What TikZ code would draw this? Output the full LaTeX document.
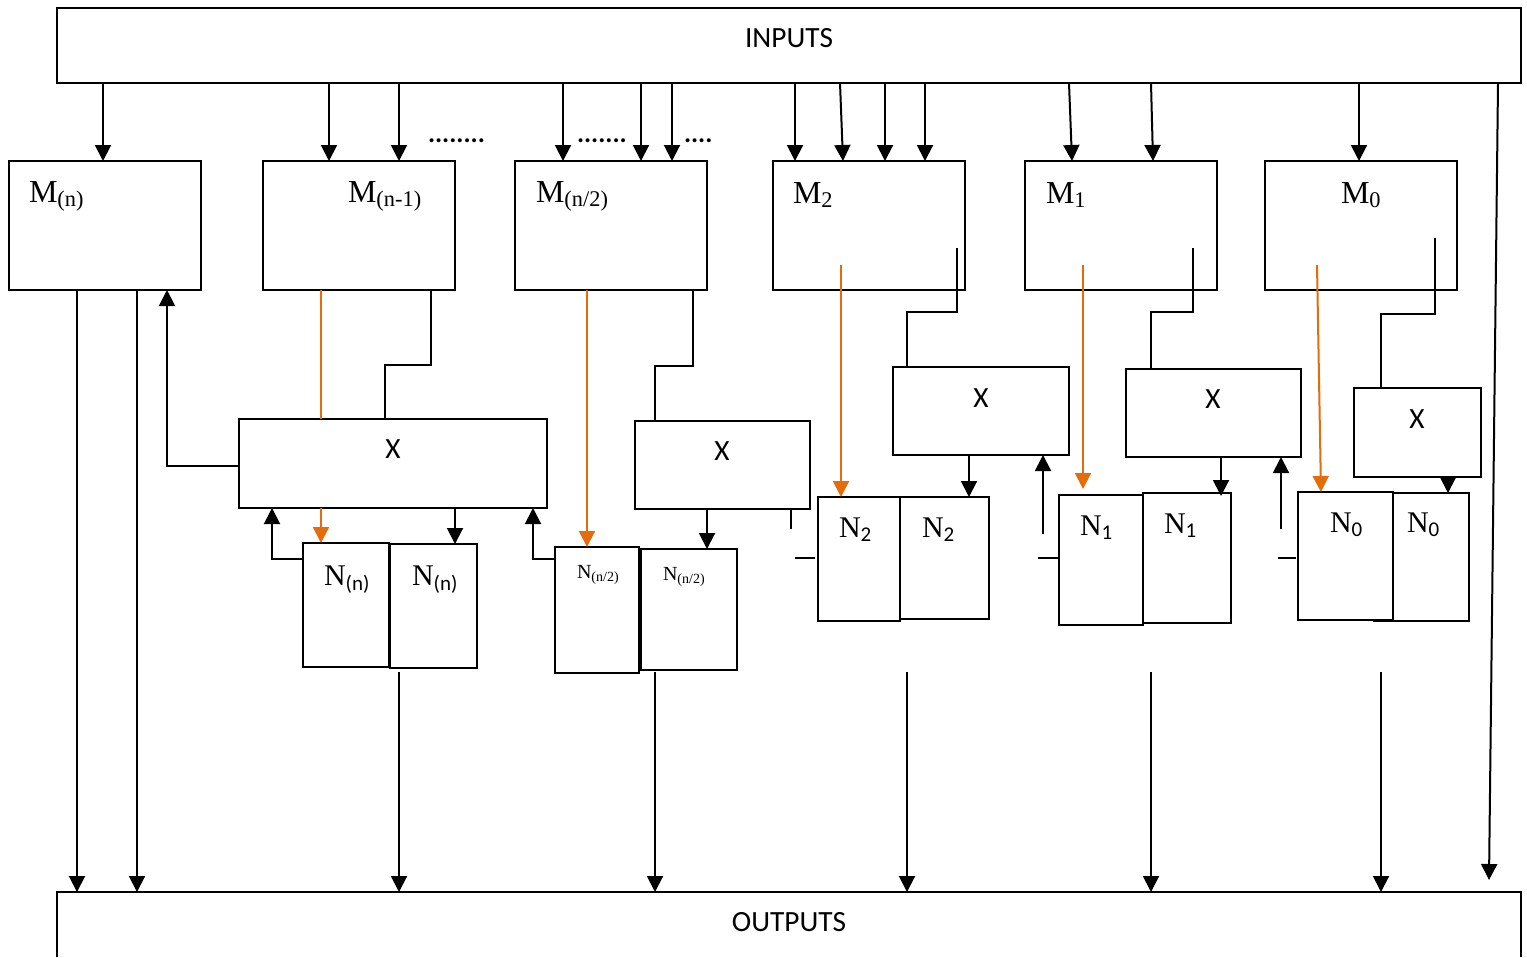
\documentclass[tikz,border=0pt]{standalone}
\usepackage{fontspec}
\setmainfont{Liberation Serif}
\newfontfamily\sansf{Carlito}
\usetikzlibrary{arrows.meta,calc}
\definecolor{orng}{RGB}{228,108,10}
\newcommand{\bx}[5]{%
  \pgfmathsetmacro\bxw{(#4-#2)*0.75}%
  \pgfmathsetmacro\bxh{(#5-#3)*0.75}%
  \node[boxst,minimum width=\bxw pt,minimum height=\bxh pt] (#1) at ({(#2+#4)/2},{(#3+#5)/2}) {};%
}
\begin{document}
\begin{tikzpicture}[x=0.75pt,y=-0.75pt,line width=1.5pt,
  boxst/.style={draw,line width=1.5pt,inner sep=0pt,outer sep=0pt},
  arr/.style={-{Triangle[width=12pt,length=12pt]}},
  oarr/.style={arr,draw=orng,fill=orng},
  sanslab/.style={font=\sansf\fontsize{22}{24}\selectfont,inner sep=0pt},
  mlab/.style={font=\fontsize{24}{26}\selectfont,inner sep=0pt,anchor=base west},
  nlab/.style={font=\fontsize{22.5}{24}\selectfont,inner sep=0pt,anchor=base west},
  hlab/.style={font=\fontsize{15}{17}\selectfont,inner sep=0pt,anchor=base west},
  dots/.style={font=\sansf\bfseries\fontsize{20}{22}\selectfont,inner sep=0pt,anchor=base west}]
\useasboundingbox (0,0) rectangle (1527,957);
\clip (0,0) rectangle (1527,957);

% ---- boxes ----
\bx{inputs}{57}{8}{1521}{83}
\node[inner sep=0pt,outer sep=0pt,minimum width=1098pt,minimum height=48.75pt] (outputs) at (789,924.5) {};
\draw (outputs.south west) -- (outputs.north west) -- (outputs.north east) -- (outputs.south east);

\bx{mn}{9}{161}{201}{290}
\bx{mn1}{263}{161}{455}{290}
\bx{mh}{515}{161}{707}{290}
\bx{m2}{773}{161}{965}{290}
\bx{m1}{1025}{161}{1217}{290}
\bx{m0}{1265}{161}{1457}{290}

\bx{xa}{239}{419}{547}{508}
\bx{xb}{635}{421}{810}{509}
\bx{xc}{893}{367}{1069}{455}
\bx{xd}{1126}{369}{1301}{457}
\bx{xe}{1354}{388}{1481}{477}

\bx{nna}{303}{543}{389}{667}
\bx{nnb}{390}{544}{477}{668}
\bx{nha}{555}{547}{639}{673}
\bx{nhb}{641}{549}{737}{670}
\bx{n2a}{818}{497}{900}{621}
\bx{n2b}{900}{497}{989}{619}
\bx{n1a}{1059}{495}{1143}{625}
\bx{n1b}{1143}{493}{1231}{623}
\bx{n0a}{1298}{492}{1393}{620}
\bx{n0b}{1393}{493}{1469}{621}

% ---- labels ----
\node[sanslab] (inputs-t) at (789,38) {INPUTS};
\node[sanslab] (outputs-t) at (789,922) {OUTPUTS};
\node[sanslab] (xa-t) at (393,449) {X};
\node[sanslab] (xb-t) at (722,451) {X};
\node[sanslab] (xc-t) at (981,398) {X};
\node[sanslab] (xd-t) at (1213,399) {X};
\node[sanslab] (xe-t) at (1417,419) {X};

\node[mlab] (mn-t) at (28,202) {M\textsubscript{(n)}};
\node[mlab] (mn1-t) at (347,202) {M\textsubscript{(n-1)}};
\node[mlab] (mh-t) at (535,202) {M\textsubscript{(n/2)}};
\node[mlab] (m2-t) at (792,203) {M\textsubscript{2}};
\node[mlab] (m1-t) at (1045,203) {M\textsubscript{1}};
\node[mlab] (m0-t) at (1340,203) {M\textsubscript{0}};

\node[nlab] (nna-t) at (323,585) {N\textsubscript{\sansf (n)}};
\node[nlab] (nnb-t) at (411,585) {N\textsubscript{\sansf (n)}};
\node[hlab] (nha-t) at (576,578) {N\textsubscript{(n/2)}};
\node[hlab] (nhb-t) at (662,580) {N\textsubscript{(n/2)}};
\node[nlab] (n2a-t) at (838,537) {N\textsubscript{\sansf 2}};
\node[nlab] (n2b-t) at (921,537) {N\textsubscript{\sansf 2}};
\node[nlab] (n1a-t) at (1079,535) {N\textsubscript{\sansf 1}};
\node[nlab] (n1b-t) at (1163,533) {N\textsubscript{\sansf 1}};
\node[nlab] (n0a-t) at (1329,532) {N\textsubscript{\sansf 0}};
\node[nlab] (n0b-t) at (1406,532) {N\textsubscript{\sansf 0}};

\node[dots] (d1) at (427,142) {........};
\node[dots] (d2) at (576,142) {.......};
\node[dots] (d3) at (683,142) {....};

% ---- inputs to M blocks ----
\foreach \xa/\xb/\t in {103/103/mn, 329/329/mn1, 399/399/mn1, 563/563/mh, 641/641/mh, 672/672/mh,
  795/795/m2, 840/843/m2, 885/885/m2, 925/925/m2, 1069/1072/m1, 1151/1153/m1, 1359/1359/m0}
  \draw[arr] (inputs.south -| \xa,0) -- (\t.north -| \xb,0);
\coordinate (rend) at (1489,880);
\draw[arr] (inputs.south -| 1498,0) -- (rend);

% ---- M(n) ----
\draw[arr] (mn.south -| 77,0) -- (outputs.north -| 77,0);
\draw[arr] (mn.south -| 137,0) -- (outputs.north -| 137,0);
\draw[arr] (xa.west |- 0,466) -- (167,466) -- (mn.south -| 167,0);

% ---- M(n-1) ----
\draw[orng] (mn1.south -| 321,0) -- (xa.north -| 321,0);
\draw[oarr] (xa.south -| 321,0) -- (nna.north -| 321,0);
\draw (mn1.south -| 431,0) |- (385,365) -- (xa.north -| 385,0);
\draw[arr] (xa.south -| 455,0) -- (nnb.north -| 455,0);
\draw[arr] (nna.west |- 0,559) -| (xa.south -| 272,0);
\draw[arr] (nha.west |- 0,559) -| (xa.south -| 533,0);
\draw[arr] ($(nnb.south -| 399,0)+(0,4)$) -- (outputs.north -| 399,0);

% ---- M(n/2) ----
\draw[oarr] (mh.south -| 587,0) -- (nha.north -| 587,0);
\draw (mh.south -| 693,0) |- (655,366) -- (xb.north -| 655,0);
\draw[arr] (xb.south -| 707,0) -- (nhb.north -| 707,0);
\draw (xb.south -| 791,0) -- ++(0,20);
\draw[arr] ($(nhb.south -| 655,0)+(0,2)$) -- (outputs.north -| 655,0);

% ---- M2 ----
\draw[oarr] ($(m2.south -| 841,0)+(0,-25)$) -- (n2a.north -| 841,0);
\draw ($(m2.south -| 957,0)+(0,-42)$) |- (907,312) -- (xc.north -| 907,0);
\draw[arr] (xc.south -| 969,0) -- (n2b.north -| 969,0);
\coordinate (u3) at (1043,534);
\draw[arr] (u3) -- (xc.south -| 1043,0);
\draw ($(n2a.west |- 0,558)+(-3,0)$) -- ++(-20,0);
\coordinate (o2) at (907,672);
\draw[arr] (o2) -- (outputs.north -| 907,0);

% ---- M1 ----
\draw[oarr] ($(m1.south -| 1083,0)+(0,-25)$) -- ($(n1a.north -| 1083,0)+(0,-6)$);
\draw ($(m1.south -| 1193,0)+(0,-42)$) |- (1151,312) -- (xd.north -| 1151,0);
\draw[arr] (xd.south -| 1221,0) -- ($(n1b.north -| 1221,0)+(0,3)$);
\coordinate (u4) at (1281,529);
\draw[arr] (u4) -- (xd.south -| 1281,0);
\draw ($(n1a.west |- 0,558)+(-1,0)$) -- ++(-20,0);
\coordinate (o1) at (1151,672);
\draw[arr] (o1) -- (outputs.north -| 1151,0);

% ---- M0 ----
\draw[oarr] ($(m0.south -| 1317,0)+(0,-25)$) -- (n0a.north -| 1321,0);
\draw ($(m0.south -| 1435,0)+(0,-52)$) |- (1381,314) -- (xe.north -| 1381,0);
\draw[arr] (xe.south -| 1448,0) -- (n0b.north -| 1448,0);
\draw ($(n0a.west |- 0,558)+(-2,0)$) -- ++(-18,0);
\draw (n0b.south west) -- ++(-20,0);
\coordinate (o0) at (1381,672);
\draw[arr] (o0) -- (outputs.north -| 1381,0);
\end{tikzpicture}
\end{document}
